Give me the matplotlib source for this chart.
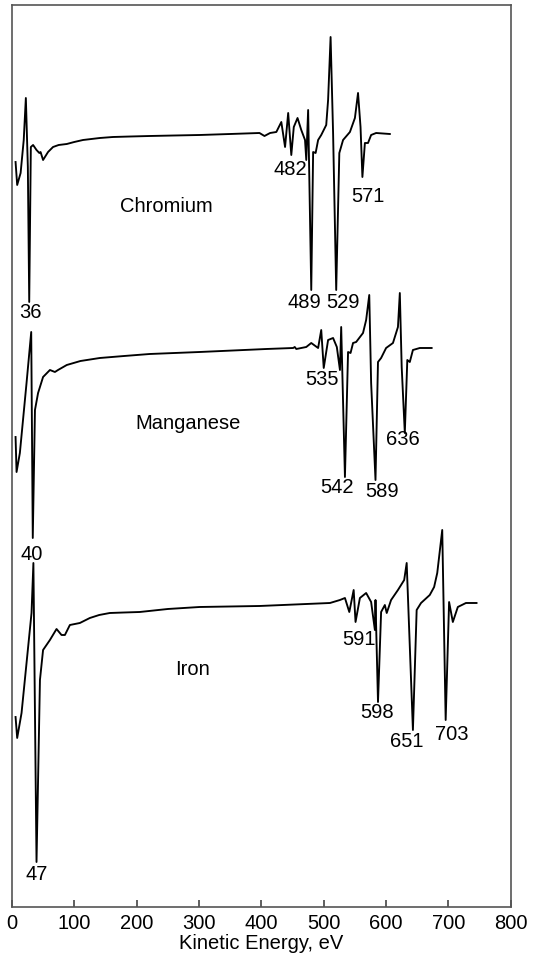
import matplotlib
matplotlib.use("Agg")
import matplotlib.pyplot as plt
import numpy as np

plt.rcParams["font.family"] = ["Liberation Sans", "DejaVu Sans"]

# kinetic energy (eV) and dN/dE signal (arbitrary units, relative to baseline)
cr_energy = [5.9, 8.5, 14, 19, 22.4, 25.6, 27.8, 30.4, 34, 39.5, 44, 46, 50, 58, 66, 75, 88, 100,
             114, 141, 162, 190, 221, 260, 301, 350, 397, 405, 414, 424, 432, 438, 443, 448, 452,
             458, 464, 470, 472, 475, 480, 483, 487, 491, 496, 504, 507, 511, 515, 520, 525,
             531, 542, 550, 555, 559, 562, 566, 571, 576, 584, 606]
cr_signal = [-27, -50, -38, -5, 37, -32, -167, -12, -10, -15, -18, -17, -25, -17, -12, -10, -9, -7,
             -5, -3, -2, -1.5, -1, -0.5, 0, 1, 2, -1, 2, 3, 13, -12, 22, -20, 8,
             17, 5, -5, -25, 25, -155, -17, -18, -5, 0, 10, 35, 98, 2, -155, -18,
             -5, 3, 17, 42, 8, -42, -8, -8, 0, 2, 1]

mn_energy = [5.9, 7.5, 12.8, 23.5, 31, 33.5, 37, 42, 50, 61, 69, 74, 88, 110, 141, 180, 221, 301,
             408, 451, 453.5, 456, 472, 480, 491, 496, 500, 507, 515, 521, 526, 528, 534, 539,
             543, 547, 552, 563, 568, 573, 576, 583, 587, 592, 600, 611, 619, 622, 625,
             630, 634, 638, 643, 654, 673]
mn_signal = [-87, -122, -103, -33, 18, -188, -60, -43, -27, -20, -22, -20, -15, -11, -8, -6, -4, -2,
             1, 2, 3, 1, 3, 7, 2, 20, -18, 10, 12, 3, -20, 23, -127, -2,
             -3, 7, 8, 17, 30, 55, -33, -130, -12, -8, 2, 7, 23, 57, -17,
             -83, -10, -12, 0, 2, 2]

fe_energy = [5.9, 8.5, 15.5, 23.5, 31.5, 34.5, 39.5, 42, 45, 50, 61, 71.6, 79.6, 85, 93, 109,
             125, 140, 157, 180, 205, 250, 301, 397, 510, 526, 534, 541, 548, 551, 558, 568,
             576, 582, 583, 587, 592, 598, 601, 608, 619, 629, 633, 643, 649, 656, 670, 677,
             682, 690, 695.5, 701, 707, 715, 728, 745]
fe_signal = [-112, -133, -108, -58, -8, 42, -257, -175, -75, -45, -35, -24, -30, -30, -20, -18,
             -13, -10, -8, -7.5, -7, -4, -2, -1, 2, 5, 7, -7, 15, -17, 7, 12,
             3, -25, 5, -97, -7, 0, -8, 5, 15, 25, 42, -125, -5, 2, 10, 18,
             32, 75, -115, 3, -17, -2, 2, 2]

offsets = {"Chromium": 772, "Manganese": 557, "Iron": 302}

cr_labels = [("36", 29, 594), ("482", 446, 737), ("489", 469, 604), ("529", 531, 604),
             ("571", 571, 710), ("Chromium", 248, 700)]
mn_labels = [("40", 32, 352), ("535", 497, 527), ("542", 522, 419), ("589", 593, 415),
             ("636", 627, 467), ("Manganese", 282, 483)]
fe_labels = [("47", 40, 32), ("591", 556, 267), ("598", 585, 194), ("651", 633, 165),
             ("703", 705, 172), ("Iron", 290, 237)]

fig = plt.figure(figsize=(5.40, 9.61), dpi=100)
ax = fig.add_axes([0.022, 0.0562, 0.924, 0.9386])

for name, energy, signal in [("Chromium", cr_energy, cr_signal),
                             ("Manganese", mn_energy, mn_signal),
                             ("Iron", fe_energy, fe_signal)]:
    ax.plot(energy, np.array(signal) + offsets[name], color="black", linewidth=1.35)

for text, x, y in cr_labels + mn_labels + fe_labels:
    ax.text(x, y, text, ha="center", va="center", fontsize=14.5)

ax.set_xlim(0, 800)
ax.set_ylim(0, 902)
ax.set_xticks(np.arange(0, 801, 100))
ax.set_yticks([])
ax.tick_params(axis="x", direction="in", length=5, width=1.2, pad=5, labelsize=14.5, color="#444444")
for spine in ax.spines.values():
    spine.set_color("#555555")
    spine.set_linewidth(1.2)
ax.set_xlabel("Kinetic Energy, eV", fontsize=14.5, labelpad=1)

fig.savefig("out.png", dpi=100)
